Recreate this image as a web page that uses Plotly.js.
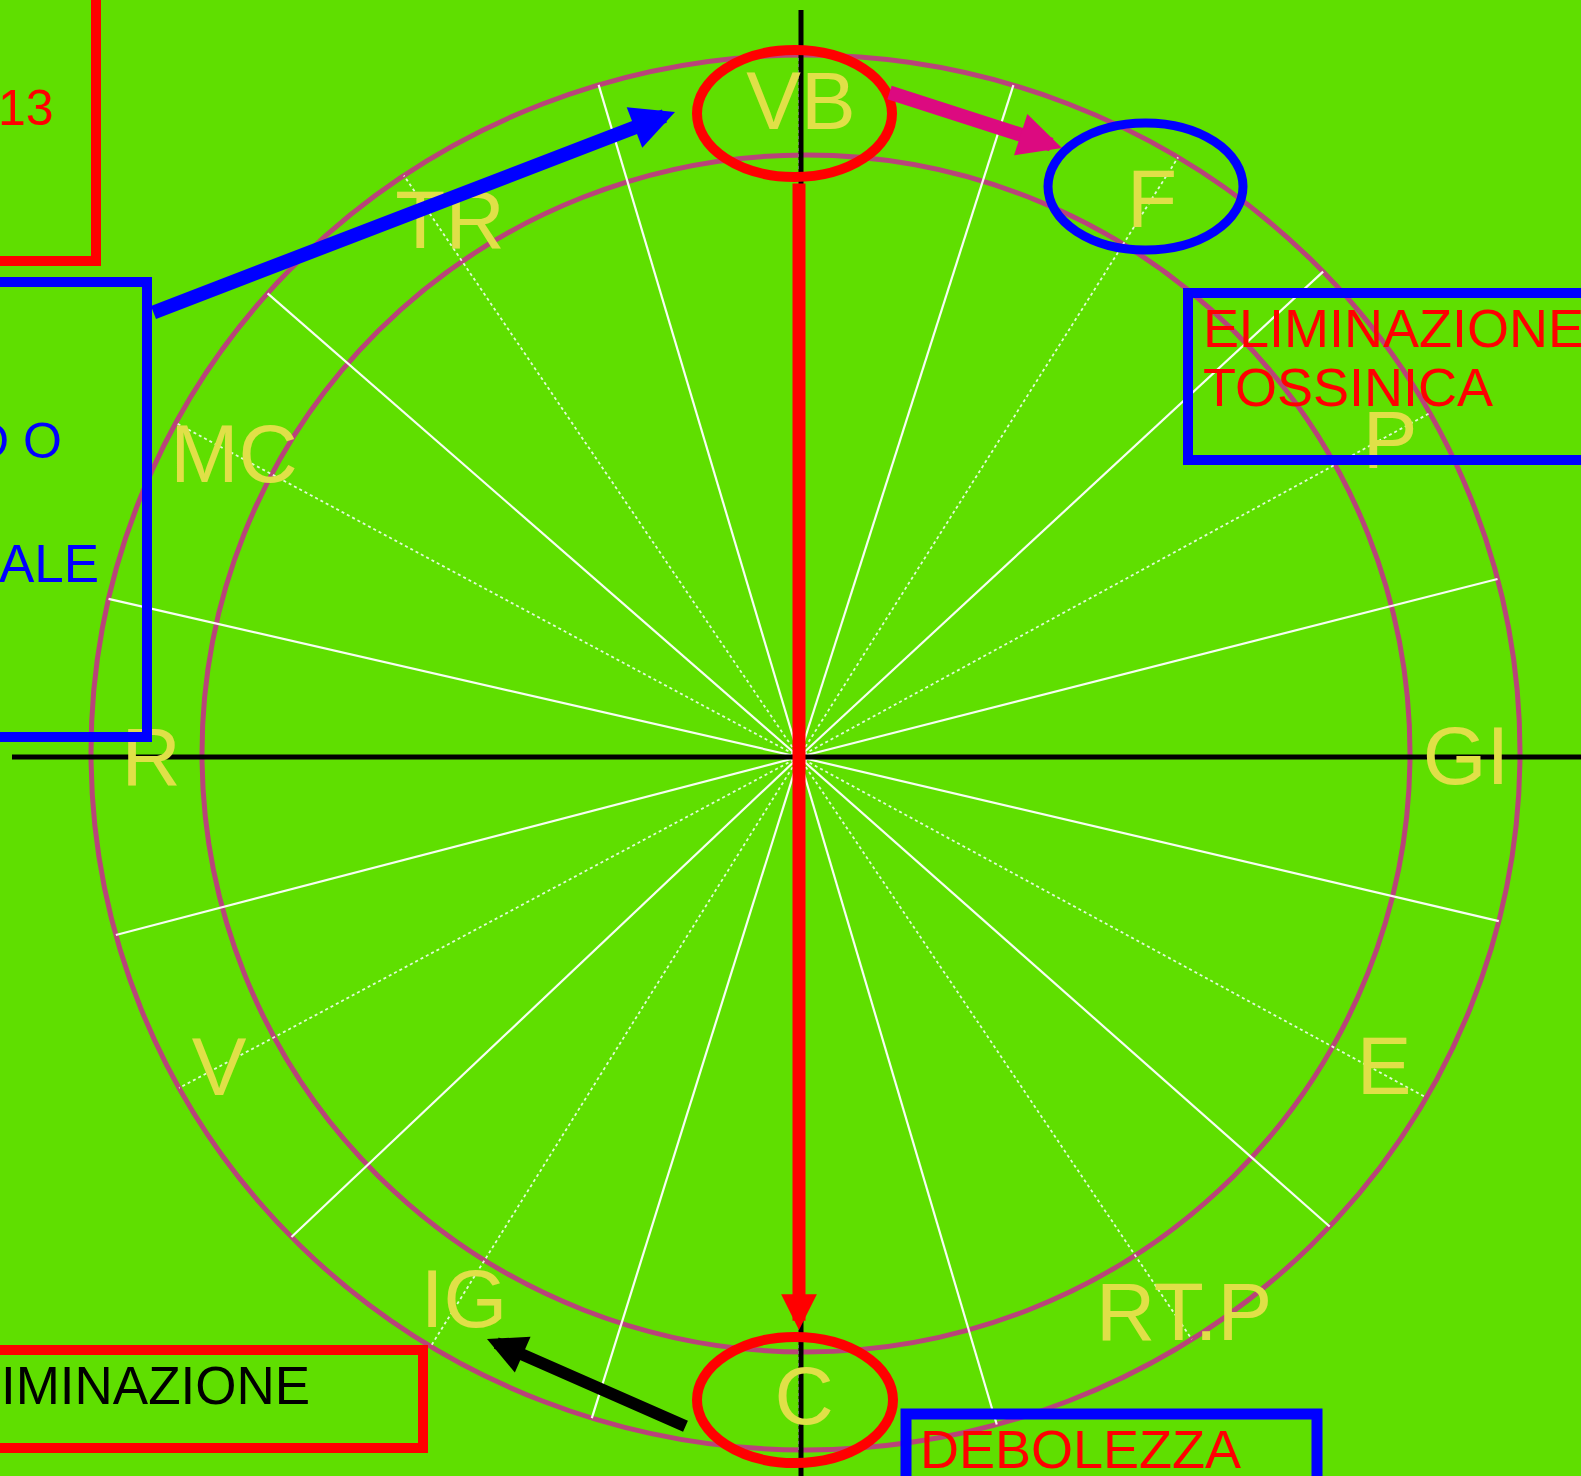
<!DOCTYPE html>
<html>
<head>
<meta charset="utf-8">
<script src="https://cdn.plot.ly/plotly-3.0.1.min.js"></script>
<style>html,body{margin:0;padding:0;background:#5fdf00;overflow:hidden}</style>
</head>
<body>
<div id="chart" style="width:1581px;height:1476px"></div>
<script>
// ---- data ----
const organLabels = ['VB', 'F', 'P', 'GI', 'E', 'RT.P', 'C', 'IG', 'V', 'R', 'MC', 'TR'];
const labelX = [801, 1152, 1390, 1466, 1384, 1184, 804, 464, 219, 151, 234, 450];
const labelY = [102, 200, 441, 757, 1067, 1313, 1397, 1300, 1068, 758, 455, 221];
const mainSpokeAngles = [17.7, 47.2, 75.7, 103.2, 131.5, 163.5, 197.4, 226.6, 255.4, 282.9, 311.1, 343.4];
const minorSpokeAngles = [0, 32.3, 61.4, 90, 118.5, 146, 180, 212, 241.9, 270, 298.2, 325.8];
const noteTexts = ['13', 'D O', 'ALE', 'ELIMINAZIONE', 'TOSSINICA', 'IMINAZIONE', 'DEBOLEZZA'];

// ---- geometry / style ----
const W = 1581, H = 1476;
const hub = {x: 799, y: 757};
const outer = {cx: 805.5, cy: 752.5, rx: 714.5, ry: 697.5};
const inner = {cx: 806, cy: 753.5, rx: 604, ry: 598.5};
const BG = '#5fdf00', YEL = '#e0e048', RING = '#b8447a';
const FONT = 'Liberation Sans, Arial, sans-serif';
const LABEL_SIZE = 82, LABEL_DY = 6;

function rayToEllipse(deg, e) {
  const a = deg * Math.PI / 180;
  const dx = Math.sin(a), dy = -Math.cos(a);
  const qx = hub.x - e.cx, qy = hub.y - e.cy;
  const A = dx*dx/(e.rx*e.rx) + dy*dy/(e.ry*e.ry);
  const B = 2*(qx*dx/(e.rx*e.rx) + qy*dy/(e.ry*e.ry));
  const C = qx*qx/(e.rx*e.rx) + qy*qy/(e.ry*e.ry) - 1;
  const t = (-B + Math.sqrt(B*B - 4*A*C)) / (2*A);
  return [hub.x + t*dx, hub.y + t*dy];
}
function spokeTrace(angles, style) {
  const xs = [], ys = [];
  angles.forEach(function (d) {
    const p = rayToEllipse(d, outer);
    xs.push(hub.x, p[0], null); ys.push(hub.y, p[1], null);
  });
  return {type: 'scatter', mode: 'lines', x: xs, y: ys, line: style, hoverinfo: 'skip', showlegend: false};
}

const traces = [
  spokeTrace(minorSpokeAngles, {color: 'rgba(240,255,240,0.9)', width: 1.8, dash: 'dot'}),
  spokeTrace(mainSpokeAngles, {color: 'rgba(255,255,255,0.95)', width: 2.2}),
  {type: 'scatter', mode: 'lines', x: [12, W, null, 801, 801], y: [757, 757, null, 10, H],
   line: {color: '#000000', width: 5}, hoverinfo: 'skip', showlegend: false},
  {type: 'scatter', mode: 'text', x: labelX, y: labelY.map(function (v) { return v + LABEL_DY; }),
   text: organLabels, textposition: 'middle center',
   textfont: {family: FONT, size: LABEL_SIZE, color: YEL},
   hoverinfo: 'skip', showlegend: false}
];

function ell(x0, y0, x1, y1, color, w) {
  return {type: 'circle', xref: 'x', yref: 'y', x0: x0, y0: y0, x1: x1, y1: y1,
          line: {color: color, width: w}, fillcolor: 'rgba(0,0,0,0)', layer: 'above'};
}
function box(x0, y0, x1, y1, color, w) {
  return {type: 'rect', xref: 'x', yref: 'y', x0: x0, y0: y0, x1: x1, y1: y1,
          line: {color: color, width: w}, fillcolor: 'rgba(0,0,0,0)', layer: 'above'};
}
const shapes = [
  {type: 'circle', xref: 'x', yref: 'y', x0: outer.cx - outer.rx, x1: outer.cx + outer.rx,
   y0: outer.cy - outer.ry, y1: outer.cy + outer.ry, line: {color: RING, width: 5}, layer: 'below'},
  {type: 'circle', xref: 'x', yref: 'y', x0: inner.cx - inner.rx, x1: inner.cx + inner.rx,
   y0: inner.cy - inner.ry, y1: inner.cy + inner.ry, line: {color: RING, width: 5}, layer: 'below'},
  ell(697, 50, 892, 177, '#ff0000', 10),
  ell(697, 1337, 893, 1463, '#ff0000', 10),
  ell(1048, 123, 1243, 250, '#0000ff', 9),
  box(-30, -30, 96, 261, '#ff0000', 10),
  box(-30, 282, 147, 737, '#0000ff', 10),
  box(1188, 293, 1620, 460, '#0000ff', 10),
  box(-30, 1350, 423, 1448, '#ff0000', 10),
  box(906, 1414, 1317, 1520, '#0000ff', 11)
];

function arrow(tx, ty, sx, sy, color, w, size) {
  return {x: tx, y: ty, ax: sx, ay: sy, xref: 'x', yref: 'y', axref: 'x', ayref: 'y',
          text: '', showarrow: true, arrowhead: 2, arrowsize: size, arrowwidth: w,
          arrowcolor: color, standoff: 0, startstandoff: 0};
}
function note(txt, x, y, xanchor, size, color) {
  return {x: x, y: y, xref: 'x', yref: 'y', text: txt, showarrow: false,
          xanchor: xanchor, yanchor: 'middle', font: {family: FONT, size: size, color: color}};
}
const annotations = [
  arrow(799, 1330, 799, 182, '#ff0000', 13, 0.55),
  arrow(675, 112, 152, 313, '#0000ff', 14, 0.62),
  arrow(1062, 148, 888, 92, '#dc0a80', 14, 0.62),
  arrow(487, 1339, 687, 1427, '#000000', 12, 0.65),
  note(noteTexts[0], 56, 108, 'right', 50, '#ff0000'),
  note(noteTexts[1], 64, 441, 'right', 50, '#0000ff'),
  note(noteTexts[2], 101, 563, 'right', 53, '#0000ff'),
  note(noteTexts[3], 1201, 328, 'left', 54, '#ff0000'),
  note(noteTexts[4], 1201, 387, 'left', 54, '#ff0000'),
  note(noteTexts[5], 312, 1385, 'right', 53, '#000000'),
  note(noteTexts[6], 918, 1449, 'left', 54, '#ff0000')
];

const layout = {
  width: W, height: H, margin: {l: 0, r: 0, t: 0, b: 0, pad: 0},
  paper_bgcolor: BG, plot_bgcolor: BG, showlegend: false,
  xaxis: {range: [0, W], visible: false, fixedrange: true},
  yaxis: {range: [H, 0], visible: false, fixedrange: true},
  shapes: shapes, annotations: annotations
};
Plotly.newPlot('chart', traces, layout, {staticPlot: true, displayModeBar: false});
</script>
</body>
</html>
